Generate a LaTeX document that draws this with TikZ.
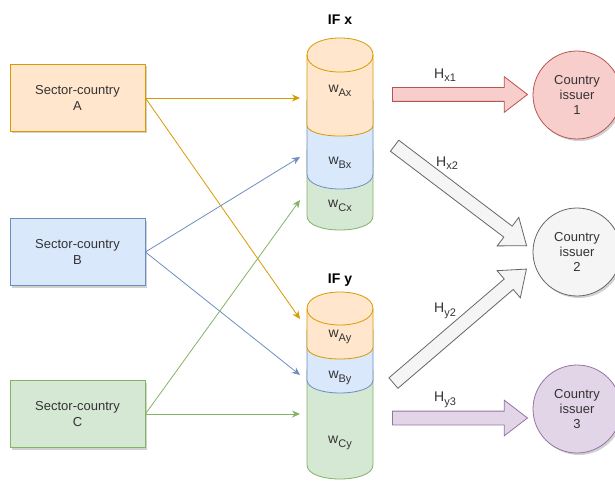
\documentclass[tikz,border=0pt]{standalone}
\usepackage{fontspec}
\setmainfont{Liberation Sans}
\usetikzlibrary{arrows.meta, calc, shapes.arrows, shadows}
\definecolor{orfill}{HTML}{FFE6CC}
\definecolor{orline}{HTML}{D79B00}
\definecolor{blfill}{HTML}{DAE8FC}
\definecolor{blline}{HTML}{6C8EBF}
\definecolor{grfill}{HTML}{D5E8D4}
\definecolor{grline}{HTML}{82B366}
\definecolor{rdfill}{HTML}{F8CECC}
\definecolor{rdline}{HTML}{B85450}
\definecolor{gyfill}{HTML}{F5F5F5}
\definecolor{gyline}{HTML}{666666}
\definecolor{pufill}{HTML}{E1D5E7}
\definecolor{puline}{HTML}{9673A6}
\definecolor{txt}{HTML}{333333}

\tikzset{
  sector/.style={rectangle, draw, line width=0.8pt, minimum width=135pt, minimum height=67pt,
    align=center, text=txt, font=\fontsize{13}{16}\selectfont,
    drop shadow={shadow xshift=2pt, shadow yshift=-2pt, fill=black, opacity=0.18}},
  issuer/.style={circle, draw, line width=0.8pt, minimum size=88pt, inner sep=0pt,
    align=center, text=txt, font=\fontsize{13}{15}\selectfont,
    drop shadow={shadow xshift=2pt, shadow yshift=-2pt, fill=black, opacity=0.18}},
  flow/.style={-{Stealth[length=8pt, width=7pt]}, line width=0.8pt},
  blkarrow/.style={single arrow, draw, line width=0.8pt, inner xsep=0pt, inner ysep=6.5pt,
    single arrow head extend=11pt, single arrow tip angle=75},
  wlab/.style={text=txt, font=\fontsize{14}{16}\selectfont},
  iflab/.style={text=black, font=\fontsize{14}{16}\selectfont\bfseries}
}

% lowered index as drawn in the diagram
\newcommand{\idx}[1]{\raisebox{-3.5pt}{\fontsize{11}{12}\selectfont #1}}

% block arrow: name, colours, from, to
\newcommand{\exposure}[4]{%
  \path let \p1=($(#4)-(#3)$), \n1={atan2(\y1,\x1)}, \n2={veclen(\x1,\y1)} in
    node[blkarrow, #2, minimum height=\n2, rotate=\n1] (#1) at ($(#3)!0.5!(#4)$) {};}

\begin{document}
\begin{tikzpicture}[x=1pt, y=-1pt]
\useasboundingbox (0,0) rectangle (615,481);

% Sector-country boxes
\node[sector, draw=orline, fill=orfill] (A) at (77.5,98) {Sector-country\\A};
\node[sector, draw=blline, fill=blfill] (B) at (77.5,252) {Sector-country\\B};
\node[sector, draw=grline, fill=grfill] (C) at (77.5,414) {Sector-country\\C};

% =========== IF x ===========
\node[iflab] (ifx) at (340,20) {IF x};
\filldraw[grline, fill=grfill, line width=0.8pt] (307,150) -- (307,216)
  .. controls (307,234.7) and (373,234.7) .. (373,216) -- (373,150) -- cycle;
\filldraw[blline, fill=blfill, line width=0.8pt] (307,100) -- (307,174)
  .. controls (307,194) and (373,194) .. (373,174) -- (373,100) -- cycle;
\filldraw[orline, fill=orfill, line width=0.8pt] (307,55) -- (307,125)
  .. controls (307,139.7) and (373,139.7) .. (373,125) -- (373,55)
  .. controls (373,32.3) and (307,32.3) .. (307,55) -- cycle;
\draw[orline, line width=0.8pt] (307,55) .. controls (307,77.7) and (373,77.7) .. (373,55);

\node[wlab] (wax) at (340,91) {w\idx{Ax}};
\node[wlab] (wbx) at (340,163) {w\idx{Bx}};
\node[wlab] (wcx) at (340,206) {w\idx{Cx}};

% =========== IF y ===========
\node[iflab] (ify) at (340,280) {IF y};
\filldraw[grline, fill=grfill, line width=0.8pt] (307,370) -- (307,465)
  .. controls (307,483.7) and (373,483.7) .. (373,465) -- (373,370) -- cycle;
\filldraw[blline, fill=blfill, line width=0.8pt] (307,330) -- (307,380)
  .. controls (307,397.3) and (373,397.3) .. (373,380) -- (373,330) -- cycle;
\filldraw[orline, fill=orfill, line width=0.8pt] (307,308.5) -- (307,347)
  .. controls (307,363) and (373,363) .. (373,347) -- (373,308.5)
  .. controls (373,286.5) and (307,286.5) .. (307,308.5) -- cycle;
\draw[orline, line width=0.8pt] (307,308.5) .. controls (307,330.5) and (373,330.5) .. (373,308.5);

\node[wlab] (way) at (340,337) {w\idx{Ay}};
\node[wlab] (wby) at (340,378) {w\idx{By}};
\node[wlab] (wcy) at (340,443) {w\idx{Cy}};

% arrow targets on the funds
\coordinate (ax) at (300,98);
\coordinate (bx) at (300,157);
\coordinate (cx) at (300,200);
\coordinate (ay) at (300,319);
\coordinate (by) at (300,375);
\coordinate (cy) at (300,414);

% Sector -> fund flows
\draw[flow, orline] (A.east) -- (ax);
\draw[flow, orline] (A.east) -- (ay);
\draw[flow, blline] (B.east) -- (bx);
\draw[flow, blline] (B.east) -- (by);
\draw[flow, grline] (C.east) -- (cx);
\draw[flow, grline] (C.east) -- (cy);

% Country issuers
\node[issuer, draw=rdline, fill=rdfill] (iss1) at (577,95) {Country\\issuer\\1};
\node[issuer, draw=gyline, fill=gyfill] (iss2) at (577,252) {Country\\issuer\\2};
\node[issuer, draw=puline, fill=pufill] (iss3) at (577,409) {Country\\issuer\\3};

% Holdings arrows
\coordinate (sx1) at (388,94.5);  \coordinate (ex1) at (523,94.5);
\coordinate (sx2) at (391,143);   \coordinate (ex2) at (523,243);
\coordinate (sy2) at (390,386);   \coordinate (ey2) at (523,272);
\coordinate (sy3) at (388,418);   \coordinate (ey3) at (523,418);

\exposure{hx1}{draw=rdline, fill=rdfill}{sx1}{ex1}
\exposure{hx2}{draw=gyline, fill=gyfill}{sx2}{ex2}
\exposure{hy2}{draw=gyline, fill=gyfill}{sy2}{ey2}
\exposure{hy3}{draw=puline, fill=pufill}{sy3}{ey3}

\node[wlab] (lhx1) at (445,75) {H\idx{x1}};
\node[wlab] (lhx2) at (447,163) {H\idx{x2}};
\node[wlab] (lhy2) at (445,311) {H\idx{y2}};
\node[wlab] (lhy3) at (445,400) {H\idx{y3}};

\end{tikzpicture}
\end{document}
